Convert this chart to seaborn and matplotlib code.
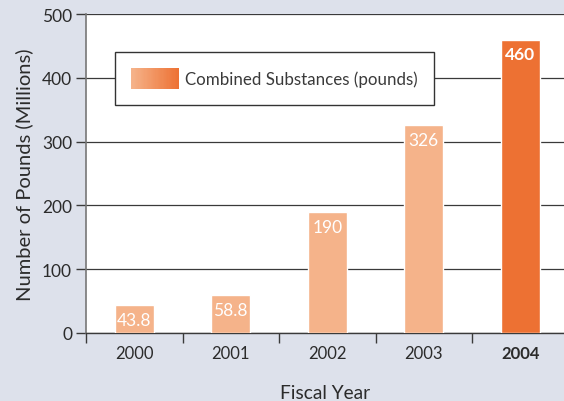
import matplotlib
matplotlib.use("Agg")
import matplotlib.pyplot as plt
import seaborn as sns
import numpy as np
from matplotlib.legend_handler import HandlerBase
from matplotlib.patches import Rectangle, Patch
from matplotlib.colors import LinearSegmentedColormap

years = ["2000", "2001", "2002", "2003", "2004"]
values = [43.8, 58.8, 190, 326, 460]
labels = ["43.8", "58.8", "190", "326", "460"]
legend_label = "Combined Substances (pounds)"
light = "#f5b38a"
dark = "#ed7133"
colors = [light, light, light, light, dark]

sns.set_theme(style="white")
plt.rcParams['font.family'] = ['Lato', 'DejaVu Sans']
txt = "#2b2b2b"
bg = "#dde1eb"

fig = plt.figure(figsize=(5.64, 4.02), dpi=100, facecolor=bg)
ax = fig.add_axes([86/564, 68/402, 478/564, 319/402])
ax.set_facecolor("white")

sns.barplot(x=years, y=values, hue=years, palette=colors, legend=False,
            width=0.4, saturation=1, ax=ax, zorder=3)

ax.set_xlim(-0.5, 4.453)
ax.set_ylim(0, 500)
ax.set_yticks([0, 100, 200, 300, 400, 500])
ax.yaxis.grid(True, color="#3a3a3a", lw=0.9, zorder=0)
ax.set_axisbelow(True)

for s in ["top", "right"]:
    ax.spines[s].set_visible(False)
ax.spines["left"].set_color("#777777")
ax.spines["left"].set_linewidth(1.2)
ax.spines["bottom"].set_color("#3a3a3a")
ax.spines["bottom"].set_linewidth(1.0)

ax.tick_params(axis="y", length=7, width=1, color="#3a3a3a", labelsize=12.5,
               labelcolor=txt, left=True, pad=3)
ax.set_xticks(range(len(years)))
ax.set_xticklabels(years)
ax.tick_params(axis="x", which="major", length=0, labelsize=12, labelcolor=txt, pad=9)
ax.set_xticks([-0.5, 0.5, 1.5, 2.5, 3.5], minor=True)
ax.tick_params(axis="x", which="minor", length=7, width=1, color="#3a3a3a", bottom=True)
ax.get_xticklabels()[-1].set_fontweight("bold")

ax.set_xlabel("Fiscal Year", fontsize=13.8, color=txt, labelpad=16)
ax.set_ylabel("Number of Pounds (Millions)", fontsize=14.5, color=txt, labelpad=6)

for i, (v, lab) in enumerate(zip(values, labels)):
    ax.annotate(lab, (i, v), xytext=(0, -5), textcoords="offset points",
                ha="center", va="top", color="white", fontsize=12.5,
                fontweight="bold" if i == 4 else "normal", zorder=5)

grad = LinearSegmentedColormap.from_list("g", [light, dark])

class GradientHandler(HandlerBase):
    def create_artists(self, legend, orig_handle, xdescent, ydescent,
                       width, height, fontsize, trans):
        n = 40
        arts = []
        for k in range(n):
            r = Rectangle((-xdescent + k * width / n, -ydescent),
                          width / n * 1.1, height,
                          facecolor=grad(k / (n - 1)), edgecolor="none",
                          transform=trans)
            arts.append(r)
        return arts

h = Patch(facecolor=dark)
leg = ax.legend([h], [legend_label], handler_map={Patch: GradientHandler()},
                loc="upper left", bbox_to_anchor=(0.061, 0.881),
                fontsize=12.2, frameon=True, fancybox=False, framealpha=1,
                edgecolor="#333333", handlelength=2.84, handleheight=1.54,
                borderpad=0.95, handletextpad=0.35, borderaxespad=0)
leg.get_frame().set_linewidth(1.0)
for t in leg.get_texts():
    t.set_color("#3a3a3a")
leg.set_zorder(6)

fig.savefig("out.png", dpi=100, facecolor=bg)
